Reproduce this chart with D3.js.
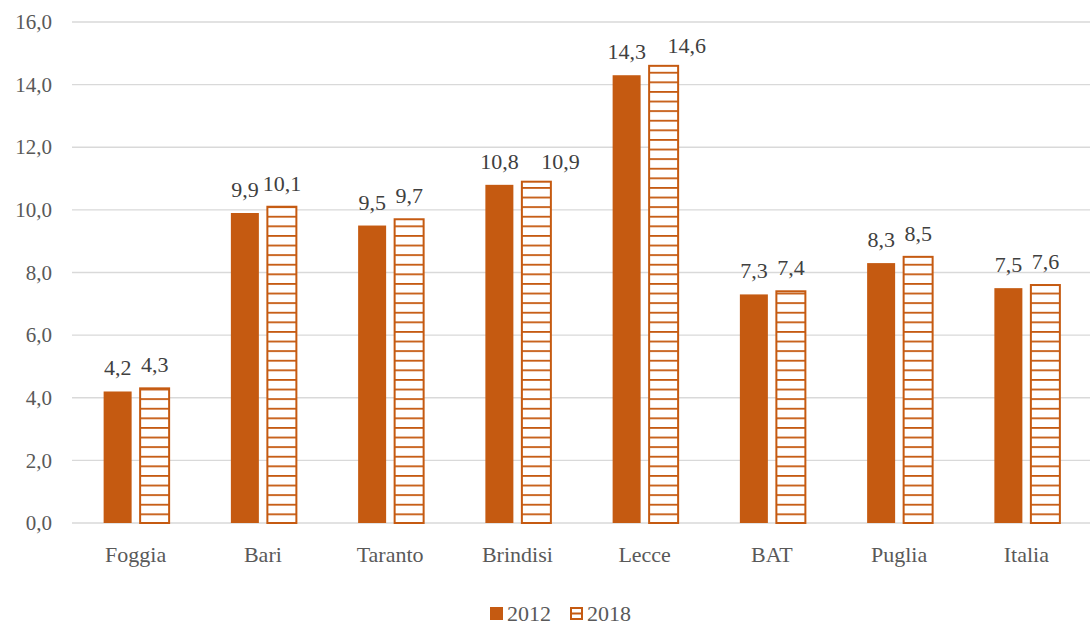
<!DOCTYPE html>
<meta charset="utf-8">
<style>
  body { margin: 0; background: #fff; }
</style>
<body>
<svg id="chart" width="1092" height="625"></svg>
<script src="https://d3js.org/d3.v7.min.js"></script>
<script>
var categories = ["Foggia", "Bari", "Taranto", "Brindisi", "Lecce", "BAT", "Puglia", "Italia"];
var years = ["2012", "2018"];
var v2012 = [4.2, 9.9, 9.5, 10.8, 14.3, 7.3, 8.3, 7.5];
var v2018 = [4.3, 10.1, 9.7, 10.9, 14.6, 7.4, 8.5, 7.6];
var yTicks = [0, 2, 4, 6, 8, 10, 12, 14, 16];

var color = "#c55a11";
var FONT = "'Liberation Serif', 'DejaVu Serif', serif";
var svg = d3.select("#chart");
var margin = {left: 72, right: 2, top: 22, bottom: 102};
var W = 1092, H = 625;

// etichette 2018 spostate a destra (come nell'originale)
var labelShift = {Brindisi: 24, Lecce: 23};

var x = d3.scaleBand().domain(categories).range([margin.left, W - margin.right]);
var y = d3.scaleLinear().domain([0, 16]).range([H - margin.bottom, margin.top]);

// motivo a righe per il 2018
var defs = svg.append("defs");
var pat = defs.append("pattern").attr("id", "hatch")
  .attr("patternUnits", "userSpaceOnUse").attr("width", 10).attr("height", 9.6)
  .attr("y", y(0));
pat.append("rect").attr("width", 10).attr("height", 9.6).attr("fill", "#fff");
pat.append("rect").attr("width", 10).attr("height", 1.8).attr("y", 0).attr("fill", color);

// griglia
svg.append("g").selectAll("line").data(yTicks).join("line")
  .attr("x1", margin.left).attr("x2", W - margin.right)
  .attr("y1", function(d) { return y(d); }).attr("y2", function(d) { return y(d); })
  .attr("stroke", "#d9d9d9").attr("stroke-width", 1.3);

var fmt = function(d) { return d3.format(".1f")(d).replace(".", ","); };

var yAxis = svg.append("g").attr("transform", "translate(" + margin.left + ",0)")
  .call(d3.axisLeft(y).tickValues(yTicks).tickFormat(fmt).tickSize(0).tickPadding(20));
yAxis.select(".domain").remove();
yAxis.selectAll("text").style("font-family", FONT).style("font-size", "21px").style("fill", "#595959");

var xAxis = svg.append("g").attr("transform", "translate(0," + y(0) + ")")
  .call(d3.axisBottom(x).tickSize(0).tickPadding(23));
xAxis.select(".domain").remove();
xAxis.selectAll("text").style("font-family", FONT).style("font-size", "22px").style("fill", "#595959");

var bw = 28, gap = 8;
var series = [v2012, v2018];
series.forEach(function(vals, s) {
  var g = svg.append("g");
  g.selectAll("rect").data(vals).join("rect")
    .attr("x", function(d, i) {
      var c = x(categories[i]) + x.bandwidth() / 2;
      return s === 0 ? c - gap / 2 - bw : c + gap / 2 + 0.5;
    })
    .attr("y", function(d) { return y(d); })
    .attr("width", s === 0 ? bw : 29)
    .attr("height", function(d) { return y(0) - y(d); })
    .attr("fill", s === 0 ? color : "url(#hatch)")
    .attr("stroke", s === 0 ? "none" : color)
    .attr("stroke-width", 2);
  g.selectAll("text").data(vals).join("text")
    .attr("x", function(d, i) {
      var c = x(categories[i]) + x.bandwidth() / 2;
      if (s === 0) return c - gap / 2 - bw / 2;
      return c + gap / 2 + 15 + (labelShift[categories[i]] || 0);
    })
    .attr("y", function(d, i) { return y(d) - (s === 1 && labelShift[categories[i]] ? 13 : 16); })
    .attr("text-anchor", "middle")
    .style("font-family", FONT).style("font-size", "22px").style("fill", "#404040")
    .text(fmt);
});

// legenda
var lg = svg.append("g").attr("transform", "translate(490,607)");
lg.append("rect").attr("width", 13).attr("height", 13).attr("fill", color);
lg.append("text").attr("x", 17).attr("y", 14).text(years[0])
  .style("font-family", FONT).style("font-size", "22px").style("fill", "#595959");
lg.append("rect").attr("x", 81).attr("y", 1).attr("width", 11).attr("height", 11)
  .attr("fill", "#fff").attr("stroke", color).attr("stroke-width", 2);
lg.append("line").attr("x1", 81).attr("x2", 92).attr("y1", 6.5).attr("y2", 6.5)
  .attr("stroke", color).attr("stroke-width", 2);
lg.append("text").attr("x", 97).attr("y", 14).text(years[1])
  .style("font-family", FONT).style("font-size", "22px").style("fill", "#595959");
</script>
</body>
